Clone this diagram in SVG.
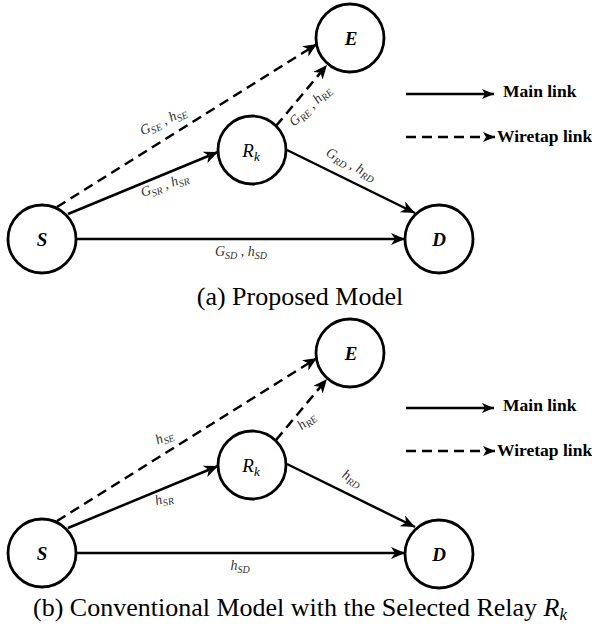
<svg xmlns="http://www.w3.org/2000/svg" width="592" height="627" viewBox="0 0 592 627">
<style>
.node{fill:#fff;stroke:#000;stroke-width:2.8}
.nl{font-family:"Liberation Serif",serif;font-style:italic;font-size:19px;text-anchor:middle;fill:#000}
.b{font-weight:bold}
.ln{stroke:#000;stroke-width:2.5;fill:none}
.dash{stroke-dasharray:10 6}
.el{font-family:"Liberation Serif",serif;font-style:italic;font-size:14px;fill:#333;text-anchor:middle}
.sub{font-size:10px}
.lg{font-family:"Liberation Serif",serif;font-weight:bold;font-size:17.5px;fill:#000}
.cap{font-family:"Liberation Serif",serif;font-size:26px;fill:#000;text-anchor:middle}
</style>
<defs>
<marker id="ah" markerUnits="userSpaceOnUse" markerWidth="16" markerHeight="14" refX="14" refY="6" orient="auto">
<path d="M0,0 L14,6 L0,12 L4,6 z" fill="#000"/>
</marker>
<marker id="ahs" markerUnits="userSpaceOnUse" markerWidth="14" markerHeight="12" refX="12" refY="5" orient="auto">
<path d="M0,0 L12,5 L0,10 L3,5 z" fill="#000"/>
</marker>
</defs>

<!-- Panel (a) connectors -->
<g id="connectors-a">
<line class="ln" x1="76" y1="239" x2="405" y2="239" marker-end="url(#ah)"/>
<line class="ln" x1="68" y1="214" x2="218" y2="152" marker-end="url(#ah)"/>
<line class="ln dash" x1="57" y1="207" x2="317" y2="44" marker-end="url(#ah)"/>
<line class="ln dash" x1="276" y1="126" x2="327" y2="65" marker-end="url(#ah)"/>
<line class="ln" x1="287" y1="150" x2="415" y2="213" marker-end="url(#ah)"/>
<line class="ln" x1="406" y1="94" x2="494" y2="94" stroke-width="2" marker-end="url(#ahs)"/>
<line class="ln dash" x1="406" y1="137" x2="495" y2="137" stroke-width="2" stroke-dasharray="7 5" marker-end="url(#ahs)"/>
</g>

<g id="labels-a">
<text class="el" transform="translate(165,125) rotate(-25)">G<tspan class="sub" dy="3">SE</tspan><tspan dy="-3"> , h</tspan><tspan class="sub" dy="3">SE</tspan></text>
<text class="el" transform="translate(166,189) rotate(-19)">G<tspan class="sub" dy="3">SR</tspan><tspan dy="-3"> , h</tspan><tspan class="sub" dy="3">SR</tspan></text>
<text class="el" x="241" y="256">G<tspan class="sub" dy="3">SD</tspan><tspan dy="-3"> , h</tspan><tspan class="sub" dy="3">SD</tspan></text>
<text class="el" transform="translate(313,109) rotate(-44)">G<tspan class="sub" dy="3">RE</tspan><tspan dy="-3"> , h</tspan><tspan class="sub" dy="3">RE</tspan></text>
<text class="el" transform="translate(349,168) rotate(28)">G<tspan class="sub" dy="3">RD</tspan><tspan dy="-3"> , h</tspan><tspan class="sub" dy="3">RD</tspan></text>
<text class="lg" x="503" y="97">Main link</text>
<text class="lg" x="497" y="142">Wiretap link</text>
<text class="cap" x="300" y="305">(a) Proposed Model</text>
</g>

<g id="S-a"><circle class="node" cx="42" cy="239" r="34"/><text class="nl b" x="42" y="246">S</text></g>
<g id="R-a"><circle class="node" cx="252" cy="150" r="34"/><text class="nl" x="251" y="157">R<tspan font-size="13" dy="4">k</tspan></text></g>
<g id="E-a"><circle class="node" cx="350" cy="38" r="34"/><text class="nl b" x="351" y="45">E</text></g>
<g id="D-a"><circle class="node" cx="439" cy="239" r="34"/><text class="nl b" x="439" y="246">D</text></g>

<!-- Panel (b) connectors -->
<g id="connectors-b">
<line class="ln" x1="76" y1="553" x2="405" y2="553" marker-end="url(#ah)"/>
<line class="ln" x1="68" y1="528" x2="218" y2="466" marker-end="url(#ah)"/>
<line class="ln dash" x1="57" y1="521" x2="317" y2="358" marker-end="url(#ah)"/>
<line class="ln dash" x1="276" y1="440" x2="327" y2="379" marker-end="url(#ah)"/>
<line class="ln" x1="287" y1="464" x2="415" y2="527" marker-end="url(#ah)"/>
<line class="ln" x1="406" y1="408" x2="494" y2="408" stroke-width="2" marker-end="url(#ahs)"/>
<line class="ln dash" x1="406" y1="451" x2="495" y2="451" stroke-width="2" stroke-dasharray="7 5" marker-end="url(#ahs)"/>
</g>

<g id="labels-b">
<text class="el" transform="translate(166,441) rotate(-22)">h<tspan class="sub" dy="3">SE</tspan></text>
<text class="el" transform="translate(165,503) rotate(-15)">h<tspan class="sub" dy="3">SR</tspan></text>
<text class="el" x="240" y="570">h<tspan class="sub" dy="3">SD</tspan></text>
<text class="el" transform="translate(309,424) rotate(-40)">h<tspan class="sub" dy="3">RE</tspan></text>
<text class="el" transform="translate(350,482) rotate(30)">h<tspan class="sub" dy="3">RD</tspan></text>
<text class="lg" x="503" y="411">Main link</text>
<text class="lg" x="497" y="456">Wiretap link</text>
<text class="cap" x="300" y="616">(b) Conventional Model with the Selected Relay <tspan font-style="italic">R</tspan><tspan font-style="italic" font-size="17" dy="4">k</tspan></text>
</g>

<g id="S-b"><circle class="node" cx="42" cy="553" r="34"/><text class="nl b" x="42" y="560">S</text></g>
<g id="R-b"><circle class="node" cx="252" cy="465" r="34"/><text class="nl" x="251" y="472">R<tspan font-size="13" dy="4">k</tspan></text></g>
<g id="E-b"><circle class="node" cx="350" cy="353" r="34"/><text class="nl b" x="351" y="360">E</text></g>
<g id="D-b"><circle class="node" cx="439" cy="554" r="34"/><text class="nl b" x="439" y="561">D</text></g>
</svg>
